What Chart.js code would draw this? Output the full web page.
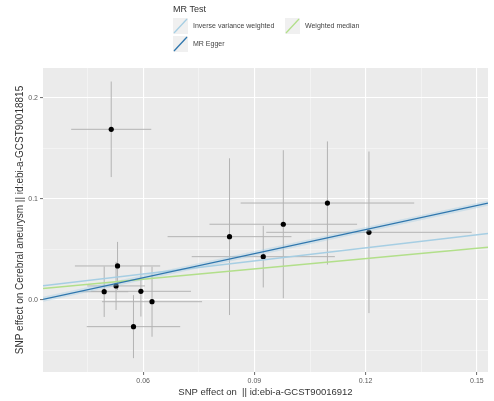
<!DOCTYPE html>
<html>
<head>
<meta charset="utf-8">
<script src="https://cdn.jsdelivr.net/npm/chart.js@4/dist/chart.umd.min.js"></script>
<style>
    html, body { margin: 0; padding: 0; background: #fff; }
    canvas { display: block; }
</style>
</head>
<body>
<canvas id="mr-scatter" width="494" height="401"></canvas>
<script>
// SNP effects (exposure on x, outcome on y) with their standard errors
var exposureBeta = [0.0514, 0.0833, 0.0531, 0.0527, 0.0495, 0.0594, 0.0624, 0.0574, 0.0924, 0.0978, 0.1097, 0.1209];
var exposureSe   = [0.0108, 0.0167, 0.0115, 0.0078, 0.0065, 0.0135, 0.0135, 0.0126, 0.0193, 0.0199, 0.0234, 0.0277];
var outcomeBeta  = [0.1690, 0.0627, 0.0337, 0.0139, 0.0082, 0.0086, -0.0017, -0.0264, 0.0429, 0.0750, 0.0960, 0.0670];
var outcomeSe    = [0.0473, 0.0776, 0.0238, 0.0238, 0.0250, 0.0250, 0.0347, 0.0312, 0.0305, 0.0733, 0.0610, 0.0800];

// MR methods: fitted lines y = intercept + slope * x
var methodNames      = ["Inverse variance weighted", "MR Egger", "Weighted median"];
var methodIntercepts = [0, -0.0255, 0];
var methodSlopes     = [0.43, 0.793, 0.342];
var methodColors     = ["#a6cee3", "#2f76ad", "#b2df8a"];

// axis ticks
var xMajorTicks = [0.06, 0.09, 0.12, 0.15];
var xTickLabels = ["0.06", "0.09", "0.12", "0.15"];
var xMinorTicks = [0.045, 0.075, 0.105, 0.135];
var yMajorTicks = [0.0, 0.1, 0.2];
var yTickLabels = ["0.0", "0.1", "0.2"];
var yMinorTicks = [-0.05, 0.05, 0.15];

var xMin = 0.033, xMax = 0.153;
var yMin = -0.0713, yMax = 0.2297;

var FONT = "'Liberation Sans', Arial, sans-serif";

function findMajor(list, v){
    for(var i = 0; i < list.length; i++){
        if(Math.abs(list[i] - v) < 1e-9) return i;
    }
    return -1;
}

function allTicks(major, minor){
    return major.concat(minor).sort(function(a, b){ return a - b; }).map(function(v){ return {value: v}; });
}

var points = [];
for(var i = 0; i < exposureBeta.length; i++){
    points.push({x: exposureBeta[i], y: outcomeBeta[i]});
}

function methodLine(k){
    return [
        {x: xMin, y: methodIntercepts[k] + methodSlopes[k] * xMin},
        {x: xMax, y: methodIntercepts[k] + methodSlopes[k] * xMax}
    ];
}

var panelBg = {
    id: "panelBg",
    beforeDraw: function(chart){
        var ctx = chart.ctx, a = chart.chartArea;
        ctx.save();
        ctx.fillStyle = "#ffffff";
        ctx.fillRect(0, 0, chart.width, chart.height);
        ctx.fillStyle = "#ebebeb";
        ctx.fillRect(a.left, a.top, a.right - a.left, a.bottom - a.top);
        ctx.restore();
    }
};

var errorBars = {
    id: "errorBars",
    beforeDatasetsDraw: function(chart){
        var ctx = chart.ctx, a = chart.chartArea;
        var xs = chart.scales.x, ys = chart.scales.y;
        ctx.save();
        ctx.beginPath();
        ctx.rect(a.left, a.top, a.right - a.left, a.bottom - a.top);
        ctx.clip();
        ctx.strokeStyle = "#b3b3b3";
        ctx.lineWidth = 1;
        for(var i = 0; i < exposureBeta.length; i++){
            var px = xs.getPixelForValue(exposureBeta[i]);
            var py = ys.getPixelForValue(outcomeBeta[i]);
            ctx.beginPath();
            ctx.moveTo(xs.getPixelForValue(exposureBeta[i] - exposureSe[i]), py);
            ctx.lineTo(xs.getPixelForValue(exposureBeta[i] + exposureSe[i]), py);
            ctx.moveTo(px, ys.getPixelForValue(outcomeBeta[i] - outcomeSe[i]));
            ctx.lineTo(px, ys.getPixelForValue(outcomeBeta[i] + outcomeSe[i]));
            ctx.stroke();
        }
        ctx.restore();
    }
};

var mrLegend = {
    id: "mrLegend",
    afterDraw: function(chart){
        var ctx = chart.ctx;
        var keys = [
            {k: 0, x: 173, y: 18},
            {k: 2, x: 285, y: 18},
            {k: 1, x: 173, y: 36}
        ];
        ctx.save();
        ctx.fillStyle = "#333";
        ctx.font = "9px " + FONT;
        ctx.textBaseline = "middle";
        ctx.fillText("MR Test", 173, 10);
        ctx.font = "7px " + FONT;
        for(var i = 0; i < keys.length; i++){
            var e = keys[i];
            ctx.fillStyle = "#f0f0f0";
            ctx.fillRect(e.x, e.y, 15, 16);
            ctx.strokeStyle = methodColors[e.k];
            ctx.lineWidth = 1.3;
            ctx.beginPath();
            ctx.moveTo(e.x + 1, e.y + 15);
            ctx.lineTo(e.x + 14, e.y + 1);
            ctx.stroke();
            ctx.fillStyle = "#444";
            ctx.fillText(methodNames[e.k], e.x + 20, e.y + 8.5);
        }
        ctx.restore();
    }
};

var datasets = [
    {
        type: "scatter",
        data: points,
        backgroundColor: "#000",
        borderWidth: 0,
        pointRadius: 2.6,
        order: 5
    },
    {
        type: "line",
        data: methodLine(1),
        borderColor: "rgba(166, 206, 227, 0.4)",
        borderWidth: 5,
        pointRadius: 0,
        order: 3
    }
];
for(var k = 0; k < methodNames.length; k++){
    datasets.push({
        type: "line",
        label: methodNames[k],
        data: methodLine(k),
        borderColor: methodColors[k],
        borderWidth: k === 1 ? 1.3 : 1.5,
        pointRadius: 0,
        order: k === 1 ? 0 : 1
    });
}

function gridColor(list){
    return function(c){
        return (c.tick && findMajor(list, c.tick.value) >= 0) ? "#ffffff" : "rgba(255,255,255,0.75)";
    };
}
function gridWidth(list){
    return function(c){
        return (c.tick && findMajor(list, c.tick.value) >= 0) ? 1.1 : 0.55;
    };
}
function tickColor(list){
    return function(c){
        return (c.tick && findMajor(list, c.tick.value) >= 0) ? "#777" : "rgba(0,0,0,0)";
    };
}

var chart = new Chart(document.getElementById("mr-scatter").getContext("2d"), {
    type: "scatter",
    data: {datasets: datasets},
    options: {
        responsive: false,
        animation: false,
        devicePixelRatio: 1,
        layout: {padding: {top: 68, right: 6, left: 0, bottom: 0}},
        plugins: {
            legend: {display: false},
            tooltip: {enabled: false}
        },
        scales: {
            x: {
                type: "linear",
                min: xMin,
                max: xMax,
                afterBuildTicks: function(s){ s.ticks = allTicks(xMajorTicks, xMinorTicks); },
                afterFit: function(s){ s.height = 29; },
                border: {display: false},
                grid: {
                    color: gridColor(xMajorTicks),
                    lineWidth: gridWidth(xMajorTicks),
                    tickColor: tickColor(xMajorTicks),
                    tickLength: 3
                },
                ticks: {
                    autoSkip: false,
                    maxRotation: 0,
                    padding: 2,
                    color: "#5a5a5a",
                    font: {family: FONT, size: 7},
                    callback: function(v){
                        var i = findMajor(xMajorTicks, v);
                        return i >= 0 ? xTickLabels[i] : "";
                    }
                },
                title: {
                    display: true,
                    text: "SNP effect on  || id:ebi-a-GCST90016912",
                    color: "#333",
                    font: {family: FONT, size: 9.5},
                    padding: {top: 0, bottom: 3.3}
                }
            },
            y: {
                type: "linear",
                min: yMin,
                max: yMax,
                afterBuildTicks: function(s){ s.ticks = allTicks(yMajorTicks, yMinorTicks); },
                afterFit: function(s){ s.width = 43; },
                border: {display: false},
                grid: {
                    color: gridColor(yMajorTicks),
                    lineWidth: gridWidth(yMajorTicks),
                    tickColor: tickColor(yMajorTicks),
                    tickLength: 3
                },
                ticks: {
                    autoSkip: false,
                    padding: 2,
                    color: "#5a5a5a",
                    font: {family: FONT, size: 7},
                    callback: function(v){
                        var i = findMajor(yMajorTicks, v);
                        return i >= 0 ? yTickLabels[i] : "";
                    }
                },
                title: {
                    display: true,
                    text: "SNP effect on Cerebral aneurysm || id:ebi-a-GCST90018815",
                    color: "#333",
                    font: {family: FONT, size: 10},
                    padding: {top: 14, bottom: 0}
                }
            }
        }
    },
    plugins: [panelBg, errorBars, mrLegend]
});
</script>
</body>
</html>
